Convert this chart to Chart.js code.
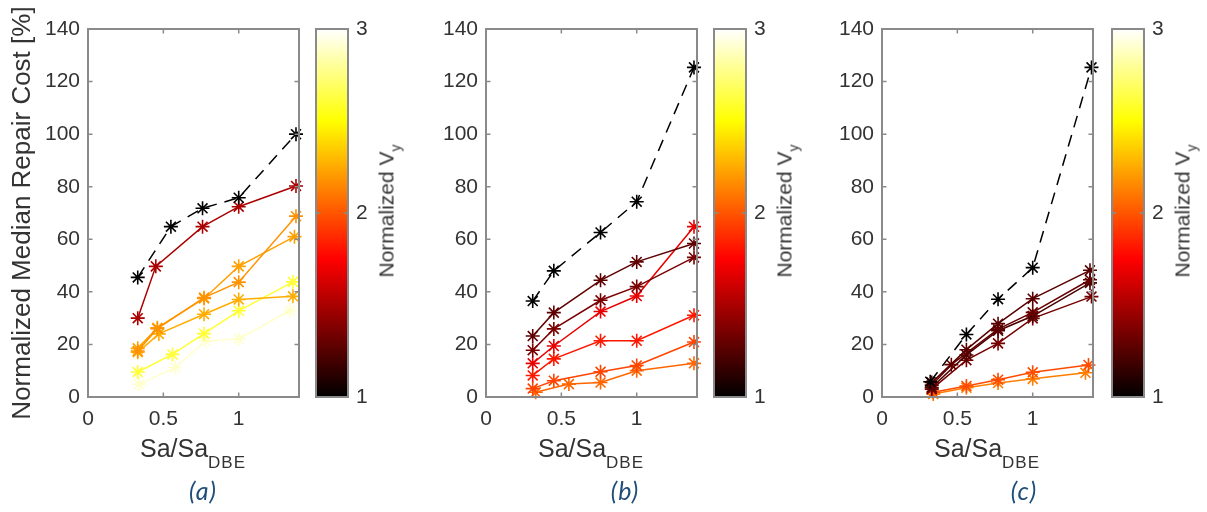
<!DOCTYPE html>
<html>
<head>
<meta charset="utf-8">
<title>Normalized median repair cost vs Sa/Sa_DBE</title>
<script src="https://cdn.jsdelivr.net/npm/chart.js@4.4.1/dist/chart.umd.min.js"></script>
<style>
  html, body { margin: 0; padding: 0; background: #fff; }
  #page { position: relative; width: 1207px; height: 512px; overflow: hidden; font-family: 'Liberation Sans', Arial, sans-serif; color: #333; }
  #page canvas { position: absolute; top: 0; }
  .xlabel { position: absolute; top: 436px; font-size: 25px; line-height: 25px; white-space: nowrap; transform: translateX(-50%); }
  .xlabel sub { font-size: 17px; letter-spacing: 1px; vertical-align: -11px; line-height: 0; }
  .cblabel { position: absolute; top: 211px; font-size: 21px; line-height: 21px; white-space: nowrap; transform: translate(-50%, -50%) rotate(-90deg); }
  .cblabel sub { font-size: 14px; vertical-align: -7px; line-height: 0; }
  .caption { position: absolute; top: 490px; font-family: Lato, 'Open Sans', sans-serif; font-style: italic; font-size: 25px; line-height: 25px; letter-spacing: 1px; color: #1f4e79; transform: translate(-50%, -50%); }
</style>
</head>
<body>
<div id="page">
  <canvas id="plotA" width="310" height="440" style="left:0px"></canvas>
  <canvas id="barA" width="120" height="440" style="left:300px"></canvas>
  <canvas id="plotB" width="310" height="440" style="left:398px"></canvas>
  <canvas id="barB" width="120" height="440" style="left:698px"></canvas>
  <canvas id="plotC" width="310" height="440" style="left:794px"></canvas>
  <canvas id="barC" width="120" height="440" style="left:1096px"></canvas>

  <div class="xlabel" style="left:193px">Sa/Sa<sub>DBE</sub></div>
  <div class="xlabel" style="left:591px">Sa/Sa<sub>DBE</sub></div>
  <div class="xlabel" style="left:987px">Sa/Sa<sub>DBE</sub></div>

  <div class="cblabel" style="left:386px">Normalized V<sub>y</sub></div>
  <div class="cblabel" style="left:784px">Normalized V<sub>y</sub></div>
  <div class="cblabel" style="left:1182px">Normalized V<sub>y</sub></div>

  <div class="caption" style="left:203px">(a)</div>
  <div class="caption" style="left:625px">(b)</div>
  <div class="caption" style="left:1024px">(c)</div>
</div>
<script>
const costTicks = [0, 20, 40, 60, 80, 100, 120, 140];
const saTicks = [0, 0.5, 1];
const vyTicks = [1, 2, 3];

// (a) intensity levels, repair cost [%] and normalized Vy of each design
const saA = [
  [0.33, 0.55, 0.76, 1.0, 1.38],
  [0.33, 0.45, 0.76, 1.0, 1.38],
  [0.33, 0.46, 0.77, 1.0, 1.38],
  [0.33, 0.46, 0.77, 1.0, 1.37],
  [0.33, 0.47, 0.77, 1.0, 1.36],
  [0.33, 0.56, 0.77, 1.0, 1.36],
  [0.34, 0.58, 0.78, 1.0, 1.34]
];
const costA = [
  [45.5, 64.8, 71.8, 75.8, 100],
  [30, 49.7, 64.8, 72.4, 80.3],
  [17.5, 26, 37.8, 43.7, 68.8],
  [18.5, 26.3, 37.5, 49.7, 61],
  [17, 24, 31.5, 37.1, 38.3],
  [9.5, 16.2, 24.1, 32.8, 43.8],
  [4.9, 11.2, 21.3, 22.1, 32.9]
];
const vyA = [1, 1.5, 2.18, 2.22, 2.26, 2.6, 2.9];

// (b)
const saB = [
  [0.31, 0.45, 0.76, 1.0, 1.38],
  [0.31, 0.45, 0.76, 1.0, 1.38],
  [0.31, 0.45, 0.76, 1.0, 1.38],
  [0.31, 0.45, 0.76, 1.0, 1.38],
  [0.31, 0.45, 0.76, 1.0, 1.38],
  [0.31, 0.45, 0.76, 1.0, 1.38],
  [0.33, 0.55, 0.76, 1.0, 1.38]
];
const costB = [
  [36.5, 48, 62.6, 74.3, 125.4],
  [23.2, 32.1, 44.4, 51.4, 58.4],
  [17.8, 25.9, 36.8, 42, 53.1],
  [12.8, 19.4, 32.5, 38.4, 64.8],
  [8.2, 14.5, 21.4, 21.4, 31.1],
  [3.2, 6.2, 9.6, 12, 20.9],
  [1.8, 4.9, 5.5, 10, 12.8]
];
const vyB = [1, 1.28, 1.36, 1.68, 1.82, 1.95, 2.05];

// (c)
const saC = [
  [0.32, 0.56, 0.77, 1.0, 1.39],
  [0.33, 0.56, 0.77, 1.0, 1.38],
  [0.33, 0.46, 0.77, 1.0, 1.38],
  [0.33, 0.56, 0.77, 1.0, 1.38],
  [0.33, 0.56, 0.77, 1.0, 1.39],
  [0.34, 0.56, 0.77, 1.0, 1.37],
  [0.34, 0.56, 0.77, 1.0, 1.35]
];
const costC = [
  [5.8, 23.8, 37.2, 49.2, 125.4],
  [5.5, 18, 27.9, 37.4, 48.2],
  [4.5, 12.3, 25.8, 32.2, 44.6],
  [3.6, 16, 25.2, 30.8, 43.4],
  [3, 14, 20.4, 29.9, 38.2],
  [1.8, 4.2, 6.6, 9.4, 12.2],
  [1.1, 3.5, 5.3, 6.9, 9.2]
];
const vyC = [1, 1.26, 1.3, 1.22, 1.34, 1.97, 2.12];

const textColor = '#333';
const tickFont = { family: "'Liberation Sans', Arial, sans-serif", size: 21 };

// MATLAB "hot" colormap mapped onto Normalized Vy from 1 to 3
function hot(vy) {
  const t = Math.min(1, Math.max(0, (vy - 1) / 2));
  const r = Math.min(1, t / 0.375);
  const g = Math.min(1, Math.max(0, (t - 0.375) / 0.375));
  const b = Math.min(1, Math.max(0, (t - 0.75) / 0.25));
  return 'rgb(' + Math.round(r * 255) + ',' + Math.round(g * 255) + ',' + Math.round(b * 255) + ')';
}

function hotGradient(chart) {
  const a = chart.chartArea;
  if (!a) return '#000';
  const g = chart.ctx.createLinearGradient(0, a.bottom, 0, a.top);
  for (let i = 0; i <= 64; i++) g.addColorStop(i / 64, hot(1 + 2 * i / 64));
  return g;
}

function fixedTicks(values) {
  return scale => { scale.ticks = values.map(v => ({ value: v })); };
}

// box around the axes with short ticks pointing inwards on every side
const boxTicks = {
  id: 'boxTicks',
  afterDatasetsDraw(chart, args, opts) {
    const { ctx, chartArea: a, scales } = chart;
    const len = 4.5;
    ctx.save();
    ctx.strokeStyle = '#8a8a8a';
    ctx.lineWidth = 1.5;
    ctx.beginPath();
    scales.y.ticks.forEach(t => {
      const py = scales.y.getPixelForValue(t.value);
      ctx.moveTo(a.left, py); ctx.lineTo(a.left + len, py);
      ctx.moveTo(a.right, py); ctx.lineTo(a.right - len, py);
    });
    if (opts.x !== false) {
      scales.x.ticks.forEach(t => {
        const px = scales.x.getPixelForValue(t.value);
        ctx.moveTo(px, a.bottom); ctx.lineTo(px, a.bottom - len);
        ctx.moveTo(px, a.top); ctx.lineTo(px, a.top + len);
      });
    }
    ctx.stroke();
    ctx.lineWidth = 2;
    ctx.strokeRect(a.left, a.top, a.right - a.left, a.bottom - a.top);
    ctx.restore();
  }
};

function makeDatasets(sa, cost, vy) {
  return sa.map((xs, i) => ({
    data: xs.map((x, j) => ({ x: x, y: cost[i][j] })),
    showLine: true,
    borderColor: hot(vy[i]),
    backgroundColor: hot(vy[i]),
    borderWidth: 1.5,
    // first series is the baseline design, drawn dashed
    borderDash: i === 0 ? [12, 8] : [],
    pointStyle: 'star',
    pointRadius: 7,
    pointBorderWidth: 1.6,
    clip: false
  }));
}

function makePlot(id, sa, cost, vy, withTitle) {
  return new Chart(document.getElementById(id), {
    type: 'scatter',
    data: { datasets: makeDatasets(sa, cost, vy) },
    options: {
      responsive: false,
      animation: false,
      events: [],
      layout: { padding: { top: 29, right: 11, bottom: 0, left: 0 } },
      plugins: { legend: { display: false }, tooltip: { enabled: false }, boxTicks: {} },
      scales: {
        x: {
          type: 'linear', min: 0, max: 1.4,
          afterBuildTicks: fixedTicks(saTicks),
          afterFit: s => { s.height = 43; },
          grid: { display: false, drawTicks: false },
          border: { display: false },
          ticks: { color: textColor, font: tickFont, padding: 10, maxRotation: 0, autoSkip: false, callback: v => String(v) }
        },
        y: {
          type: 'linear', min: 0, max: 140,
          afterBuildTicks: fixedTicks(costTicks),
          afterFit: s => { s.width = 88; },
          grid: { display: false, drawTicks: false },
          border: { display: false },
          ticks: { color: textColor, font: tickFont, padding: 8, autoSkip: false },
          title: {
            display: withTitle,
            text: 'Normalized Median Repair Cost [%]',
            color: textColor,
            font: { family: "'Liberation Sans', Arial, sans-serif", size: 26 },
            padding: { top: 7, bottom: 0 }
          }
        }
      }
    },
    plugins: [boxTicks]
  });
}

function makeColorbar(id) {
  return new Chart(document.getElementById(id), {
    type: 'bar',
    data: {
      labels: ['Normalized Vy'],
      datasets: [{
        data: [[vyTicks[0], vyTicks[vyTicks.length - 1]]],
        backgroundColor: ctx => hotGradient(ctx.chart),
        barPercentage: 1,
        categoryPercentage: 1,
        borderWidth: 0
      }]
    },
    options: {
      responsive: false,
      animation: false,
      events: [],
      layout: { padding: { top: 29, bottom: 43, left: 16, right: 0 } },
      plugins: { legend: { display: false }, tooltip: { enabled: false }, boxTicks: { x: false } },
      scales: {
        x: { display: false },
        y: {
          position: 'right', min: 1, max: 3,
          afterBuildTicks: fixedTicks(vyTicks),
          afterFit: s => { s.width = 72; },
          grid: { display: false, drawTicks: false },
          border: { display: false },
          ticks: { color: textColor, font: tickFont, padding: 8 }
        }
      }
    },
    plugins: [boxTicks]
  });
}

makePlot('plotA', saA, costA, vyA, true);
makePlot('plotB', saB, costB, vyB, false);
makePlot('plotC', saC, costC, vyC, false);
makeColorbar('barA');
makeColorbar('barB');
makeColorbar('barC');
</script>
</body>
</html>
